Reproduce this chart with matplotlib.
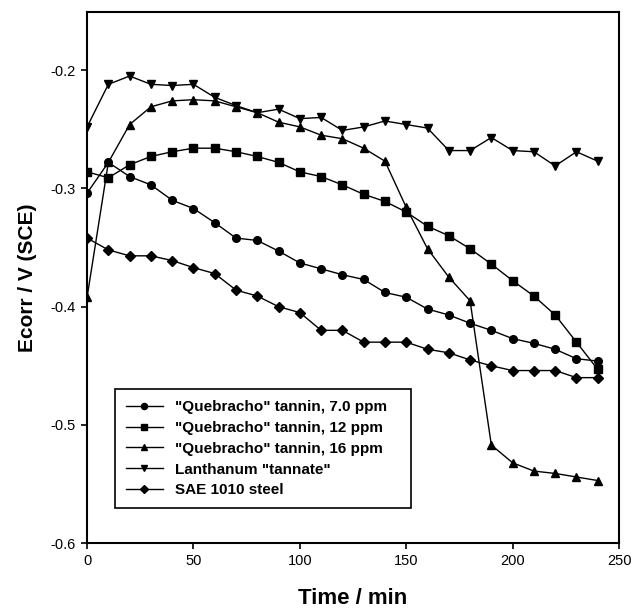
import numpy as np
import matplotlib
matplotlib.use("Agg")
import matplotlib.pyplot as plt

plt.rcParams["font.family"] = ["Liberation Sans", "DejaVu Sans"]

time_min = [0, 10, 20, 30, 40, 50, 60, 70, 80, 90, 100, 110, 120,
            130, 140, 150, 160, 170, 180, 190, 200, 210, 220, 230, 240]

tannin_7 = [-0.304, -0.278, -0.290, -0.297, -0.310, -0.317, -0.329, -0.342, -0.344,
            -0.353, -0.363, -0.368, -0.373, -0.377, -0.388, -0.392, -0.402, -0.407,
            -0.414, -0.420, -0.427, -0.431, -0.436, -0.444, -0.446]
tannin_12 = [-0.286, -0.291, -0.280, -0.273, -0.269, -0.266, -0.266, -0.269, -0.273,
             -0.278, -0.286, -0.290, -0.297, -0.305, -0.311, -0.320, -0.332, -0.340,
             -0.351, -0.364, -0.378, -0.391, -0.407, -0.430, -0.453]
tannin_16 = [-0.392, -0.278, -0.246, -0.231, -0.226, -0.225, -0.226, -0.231, -0.236,
             -0.244, -0.248, -0.255, -0.258, -0.266, -0.277, -0.316, -0.351, -0.375,
             -0.395, -0.517, -0.532, -0.539, -0.541, -0.544, -0.547]
lanthanum = [-0.248, -0.212, -0.205, -0.212, -0.213, -0.212, -0.223, -0.230, -0.236,
             -0.233, -0.241, -0.240, -0.251, -0.248, -0.243, -0.246, -0.249, -0.268,
             -0.268, -0.257, -0.268, -0.269, -0.281, -0.269, -0.277]
steel = [-0.342, -0.352, -0.357, -0.357, -0.361, -0.367, -0.372, -0.386, -0.391,
         -0.400, -0.405, -0.420, -0.420, -0.430, -0.430, -0.430, -0.436, -0.439,
         -0.445, -0.450, -0.454, -0.454, -0.454, -0.460, -0.460]

series = [
    (tannin_7, "o", '"Quebracho" tannin, 7.0 ppm', 5.5),
    (tannin_12, "s", '"Quebracho" tannin, 12 ppm', 5.3),
    (tannin_16, "^", '"Quebracho" tannin, 16 ppm', 6),
    (lanthanum, "v", 'Lanthanum "tannate"', 6),
    (steel, "D", "SAE 1010 steel", 5.2),
]

fig = plt.figure(figsize=(6.31, 6.09), dpi=100)
ax = fig.add_axes([0.138, 0.108, 0.843, 0.872])

for values, marker, label, ms in series:
    ax.plot(time_min, values, color="black", marker=marker, markersize=ms,
            linewidth=1, label=label)

ax.set_xlim(0, 250)
ax.set_ylim(-0.6, -0.151)
ax.set_xticks(np.arange(0, 251, 50))
ax.set_yticks([-0.6, -0.5, -0.4, -0.3, -0.2])
ax.set_yticklabels(["-0.6", "-0.5", "-0.4", "-0.3", "-0.2"])
ax.tick_params(direction="out", length=4, width=1.2, labelsize=10.5, pad=4)
for spine in ax.spines.values():
    spine.set_linewidth(1.5)

ax.set_xlabel("Time / min", fontsize=16, fontweight="bold", labelpad=14)
ax.set_ylabel("Ecorr / V (SCE)", fontsize=15, fontweight="bold", labelpad=10)

leg = ax.legend(loc="lower left", bbox_to_anchor=(0.053, 0.066, 0.556, 0.238),
                mode="expand", borderaxespad=0, fancybox=False,
                edgecolor="black", framealpha=1,
                prop={"weight": "bold", "size": 11}, markerscale=0.8,
                handlelength=2.4, labelspacing=0.45, borderpad=0.7)
leg.get_frame().set_linewidth(1.2)

fig.savefig("out.png", dpi=100)
